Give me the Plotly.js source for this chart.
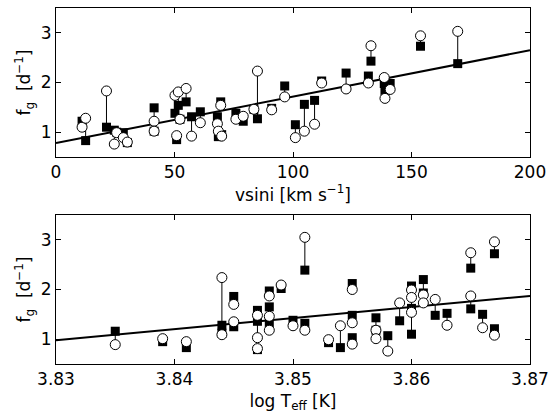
<!DOCTYPE html>
<html>
<head>
<meta charset="utf-8">
<script src="https://cdn.plot.ly/plotly-3.0.1.min.js"></script>
<style>html,body{margin:0;padding:0;background:#fff;}#chart{width:551px;height:418px;}</style>
</head>
<body>
<div id="chart"></div>
<script>
// ---- Top panel: vsini vs f_g ----
const vsini      = [11, 12.5, 21.3, 24.6, 25.6, 28.4, 30.1, 41.4, 41.4, 50.2, 50.9, 51.6, 52.3, 54.9, 57.2, 60.9, 68.1, 68.5, 69.9, 69.5, 75.9, 79, 85, 83.5, 91, 96.5, 101, 104.8, 109.1, 112.1, 122.4, 132.9, 131.8, 138.5, 141, 138.8, 153.8, 169.5];
const fSquareTop = [1.22, 0.83, 1.10, 1.04, 1.00, 0.99, 0.79, 1.49, 1.02, 1.38, 0.85, 1.54, 1.26, 1.61, 1.31, 1.41, 1.31, 0.91, 0.95, 1.61, 1.38, 1.22, 1.27, 1.46, 1.48, 1.93, 1.15, 1.56, 1.64, 2.03, 2.19, 2.43, 2.13, 1.98, 1.98, 1.83, 2.73, 2.38];
const fCircleTop = [1.10, 1.28, 1.83, 0.76, 0.99, 0.89, 0.80, 1.22, 1.02, 1.74, 0.93, 1.81, 1.26, 1.88, 0.92, 1.19, 1.17, 1.02, 0.92, 1.54, 1.26, 1.32, 2.23, 1.46, 1.45, 1.71, 0.89, 1.02, 1.16, 1.99, 1.87, 2.74, 1.99, 2.10, 1.86, 1.68, 2.94, 3.03];
const fitTopX = [0, 200];
const fitTopY = [0.78, 2.65];

// ---- Bottom panel: log Teff vs f_g ----
const logTeff    = [3.835, 3.839, 3.841, 3.844, 3.844, 3.845, 3.845, 3.847, 3.847, 3.847, 3.848, 3.848, 3.848, 3.849, 3.850, 3.851, 3.851, 3.853, 3.854, 3.855, 3.855, 3.855, 3.857, 3.857, 3.858, 3.859, 3.860, 3.860, 3.860, 3.861, 3.861, 3.862, 3.863, 3.865, 3.865, 3.866, 3.867, 3.867];
const fSquareBot = [1.16, 0.95, 0.83, 1.28, 1.12, 1.86, 1.25, 1.58, 1.36, 0.79, 1.97, 1.65, 1.33, 2.02, 1.38, 2.39, 1.32, 0.93, 0.83, 2.12, 1.48, 1.03, 1.43, 1.18, 1.07, 1.37, 2.07, 1.62, 1.10, 2.20, 1.93, 1.48, 1.52, 2.43, 1.61, 1.50, 2.72, 1.21];
const fCircleBot = [0.89, 1.01, 0.95, 2.24, 1.09, 1.70, 1.35, 1.48, 1.03, 0.81, 1.87, 1.46, 1.18, 2.09, 1.27, 3.05, 1.18, 0.99, 1.27, 2.00, 1.33, 0.90, 1.18, 1.01, 0.76, 1.73, 1.99, 1.84, 1.54, 1.89, 1.73, 1.80, 1.28, 2.74, 1.87, 1.23, 2.96, 1.08];
const fitBotX = [3.83, 3.87];
const fitBotY = [0.98, 1.87];

const xTickTop = [0, 50, 100, 150, 200];
const xTickBot = [3.83, 3.84, 3.85, 3.86, 3.87];
const yTicks = [1, 2, 3];

function segs(x, a, b) {
  const sx = [], sy = [];
  for (let i = 0; i < x.length; i++) { sx.push(x[i], x[i], null); sy.push(a[i], b[i], null); }
  return {x: sx, y: sy};
}

function panel(x, sq, ci, fx, fy, xa, ya) {
  const s = segs(x, sq, ci);
  return [
    {x: s.x, y: s.y, mode: 'lines', line: {color: '#000', width: 1}, xaxis: xa, yaxis: ya, hoverinfo: 'skip'},
    {x: fx, y: fy, mode: 'lines', line: {color: '#000', width: 2}, xaxis: xa, yaxis: ya},
    {x: x, y: sq, mode: 'markers', marker: {symbol: 'square', size: 9, color: '#000', line: {width: 0}}, xaxis: xa, yaxis: ya},
    {x: x, y: ci, mode: 'markers', marker: {symbol: 'circle', size: 10, color: '#fff', line: {color: '#000', width: 1}}, xaxis: xa, yaxis: ya}
  ];
}

const data = [].concat(
  panel(vsini, fSquareTop, fCircleTop, fitTopX, fitTopY, 'x', 'y'),
  panel(logTeff, fSquareBot, fCircleBot, fitBotX, fitBotY, 'x2', 'y2')
);

const font = {family: 'DejaVu Sans, sans-serif', size: 17, color: '#000'};
const axBase = {
  showline: true, linecolor: '#000', linewidth: 1, mirror: 'ticks',
  ticks: 'inside', ticklen: 5, tickwidth: 1, tickcolor: '#000',
  showgrid: false, zeroline: false, tickfont: font
};

const H = 418, T = 8, B = 54;
const ph = H - T - B;
const layout = {
  width: 551, height: 418,
  margin: {l: 56, r: 21, t: T, b: B},
  paper_bgcolor: '#fff', plot_bgcolor: '#fff',
  showlegend: false,
  font: font,
  xaxis: Object.assign({}, axBase, {range: [0, 200], tickvals: xTickTop, ticktext: xTickTop.map(String), anchor: 'y',
    title: {text: 'vsini [km s<sup>\u22121</sup>]', font: font, standoff: 6}}),
  yaxis: Object.assign({}, axBase, {range: [0.5, 3.5], tickvals: yTicks, domain: [(H - B - 157) / ph, 1], anchor: 'x',
    title: {text: 'f<sub>g</sub>  [d<sup>\u22121</sup>]', font: font, standoff: 5}}),
  xaxis2: Object.assign({}, axBase, {range: [3.83, 3.87], tickvals: xTickBot, ticktext: xTickBot.map(v => v.toFixed(2)), anchor: 'y2',
    title: {text: 'log T<sub>eff</sub> [K]', font: font, standoff: 6}}),
  yaxis2: Object.assign({}, axBase, {range: [0.5, 3.5], tickvals: yTicks, domain: [0, (H - B - 215) / ph], anchor: 'x2',
    title: {text: 'f<sub>g</sub>  [d<sup>\u22121</sup>]', font: font, standoff: 5}})
};

Plotly.newPlot('chart', data, layout, {displayModeBar: false, staticPlot: true});
</script>
</body>
</html>
